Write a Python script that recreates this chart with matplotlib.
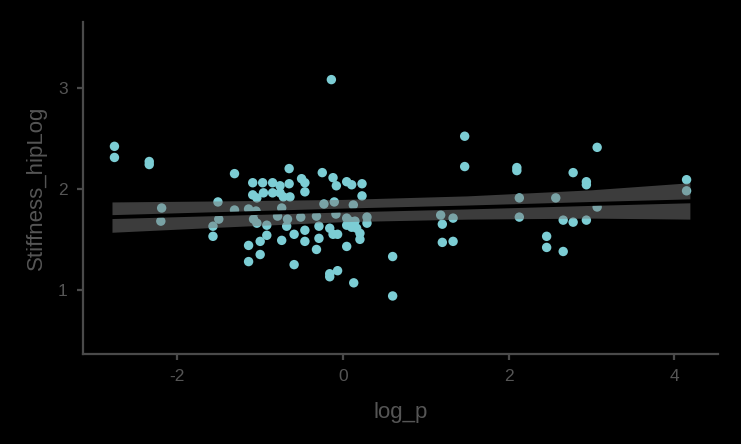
import matplotlib
matplotlib.use("Agg")
import matplotlib.pyplot as plt
import numpy as np

plt.rcParams['font.family'] = ['Liberation Sans', 'DejaVu Sans']
plt.rcParams['axes.unicode_minus'] = False

# scatter points
log_p = [
    -2.76, -2.76, -2.34, -2.34, -2.19, -2.20, -1.57, -1.57, -1.51, -1.50,
    -1.31, -1.31, -1.14, -1.14, -1.14, -1.09, -1.09, -1.08, -1.05, -1.04,
    -1.04, -1.00, -1.00, -0.97, -0.96, -0.92, -0.92, -0.85, -0.85, -0.79,
    -0.76, -0.76, -0.74, -0.74, -0.72, -0.68, -0.67, -0.65, -0.65, -0.64,
    -0.59, -0.59, -0.51, -0.50, -0.46, -0.46, -0.46, -0.46, -0.32, -0.32,
    -0.29, -0.29, -0.25, -0.23, -0.16, -0.16, -0.16, -0.14, -0.12, -0.12,
    -0.105, -0.085, -0.08, -0.065, -0.065, 0.045, 0.045, 0.045, 0.045, 0.085,
    0.105, 0.105, 0.125, 0.13, 0.145, 0.165, 0.205, 0.205, 0.23, 0.23,
    0.29, 0.29, 0.60, 0.60, 1.18, 1.20, 1.20, 1.33, 1.33, 1.47,
    1.47, 2.10, 2.10, 2.13, 2.13, 2.46, 2.46, 2.57, 2.66, 2.66,
    2.78, 2.78, 2.94, 2.94, 2.94, 3.07, 3.07, 4.15, 4.15,
]
stiffness = [
    2.42, 2.31, 2.27, 2.24, 1.81, 1.68, 1.63, 1.53, 1.87, 1.70,
    2.15, 1.79, 1.80, 1.44, 1.28, 2.06, 1.94, 1.70, 1.78, 1.91,
    1.66, 1.48, 1.35, 2.06, 1.96, 1.64, 1.54, 2.06, 1.96, 1.73,
    2.03, 1.96, 1.81, 1.49, 1.92, 1.63, 1.70, 2.20, 2.05, 1.92,
    1.55, 1.25, 1.72, 2.10, 2.06, 1.97, 1.59, 1.48, 1.73, 1.40,
    1.63, 1.51, 2.16, 1.85, 1.61, 1.16, 1.13, 3.08, 2.11, 1.55,
    1.87, 1.75, 2.03, 1.55, 1.19, 2.07, 1.71, 1.64, 1.43, 1.68,
    2.04, 1.62, 1.84, 1.07, 1.68, 1.61, 1.56, 1.50, 2.05, 1.93,
    1.72, 1.66, 1.33, 0.94, 1.74, 1.65, 1.47, 1.71, 1.48, 2.52,
    2.22, 2.21, 2.18, 1.91, 1.72, 1.53, 1.42, 1.91, 1.69, 1.38,
    2.16, 1.67, 2.07, 2.04, 1.69, 2.41, 1.82, 2.09, 1.98,
]

# fitted line and its band
fit_x = [-2.79, -1.5, 0.0, 1.5, 3.0, 4.19]
fit_y = [1.72, 1.75, 1.785, 1.815, 1.85, 1.876]
fit_lo = [1.57, 1.62, 1.675, 1.70, 1.71, 1.70]
fit_hi = [1.87, 1.88, 1.895, 1.93, 1.99, 2.06]

bg = '#000000'
axis_col = '#4a4a4a'
text_col = '#555555'
point_col = '#7ccdd4'

fig = plt.figure(figsize=(7.41, 4.44), dpi=100, facecolor=bg)
ax = fig.add_axes([0.112, 0.2027, 0.857, 0.7478], facecolor=bg)

ax.scatter(log_p, stiffness, s=46, color=point_col, edgecolors='none', zorder=2)
ax.fill_between(fit_x, fit_lo, fit_hi, color='#787878', alpha=0.5, linewidth=0, zorder=3)
ax.plot(fit_x, fit_y, color='black', linewidth=2.8, zorder=4)

ax.set_xlim(-3.14, 4.53)
ax.set_ylim(0.366, 3.65)
ax.set_xticks([-2, 0, 2, 4])
ax.set_yticks([1, 2, 3])

for side in ['top', 'right']:
    ax.spines[side].set_visible(False)
for side in ['left', 'bottom']:
    ax.spines[side].set_color(axis_col)
    ax.spines[side].set_linewidth(1.6)

ax.tick_params(colors=axis_col, labelcolor=text_col, labelsize=12.5,
               length=4, width=1.6, pad=7)

ax.set_xlabel('log_p', color=text_col, fontsize=16, labelpad=13)
ax.set_ylabel('Stiffness_hipLog', color=text_col, fontsize=16, labelpad=8)

fig.savefig('out.png', dpi=100, facecolor=bg)
